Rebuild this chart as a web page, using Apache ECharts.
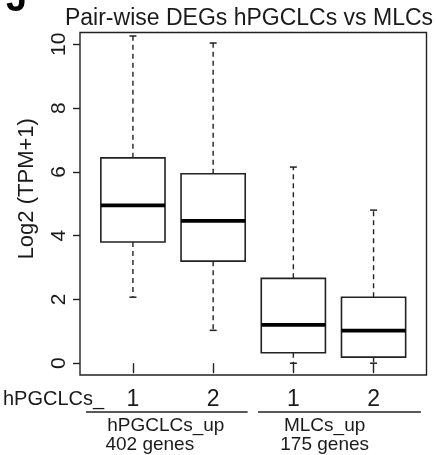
<!DOCTYPE html>
<html>
<head>
<meta charset="utf-8">
<script src="https://cdn.jsdelivr.net/npm/echarts@6/dist/echarts.min.js"></script>
<style>
  html, body { margin: 0; padding: 0; background: #fff; }
  #main { width: 436px; height: 455px; }
</style>
</head>
<body>
<div id="main"></div>
<script>
// box statistics (log2 TPM+1)
const positions = [1, 2, 3, 4];
const tickLabels = ['1', '2', '1', '2'];
const whiskerLow = [2.07, 1.03, 0.0, 0.0];
const q1 = [3.80, 3.20, 0.33, 0.19];
const median = [4.95, 4.46, 1.20, 1.02];
const q3 = [6.44, 5.94, 2.66, 2.07];
const whiskerHigh = [10.26, 10.04, 6.15, 4.80];
const yTicks = [0, 2, 4, 6, 8, 10];

// group annotations under the x axis
const groupNames = ['hPGCLCs_up', 'MLCs_up'];
const groupGenes = ['402 genes', '175 genes'];
const groupSpan = [[0.415, 2.43], [2.56, 4.59]];
const groupNameAt = [1.41, 3.39];
const groupGenesAt = [1.21, 3.39];

const FONT = 'Liberation Sans, Arial, sans-serif';
const INK = '#1a1a1a';

const boxData = positions.map((p, i) => [p, whiskerLow[i], q1[i], median[i], q3[i], whiskerHigh[i]]);

function renderBox(params, api) {
  const x = api.value(0);
  const lo = api.coord([x, api.value(1)]);
  const b1 = api.coord([x, api.value(2)]);
  const md = api.coord([x, api.value(3)]);
  const b3 = api.coord([x, api.value(4)]);
  const hi = api.coord([x, api.value(5)]);
  const w = api.size([0.8, 0])[0];
  const cx = lo[0];
  const cap = 3.5;
  const stroke = { stroke: '#222', lineWidth: 1.5 };
  const dashed = { stroke: '#222', lineWidth: 1.4, lineDash: [5, 4] };
  return {
    type: 'group',
    children: [
      { type: 'line', shape: { x1: cx, y1: b3[1], x2: cx, y2: hi[1] }, style: dashed },
      { type: 'line', shape: { x1: cx, y1: b1[1], x2: cx, y2: lo[1] }, style: dashed },
      { type: 'line', shape: { x1: cx - cap, y1: hi[1], x2: cx + cap, y2: hi[1] }, style: stroke },
      { type: 'line', shape: { x1: cx - cap, y1: lo[1], x2: cx + cap, y2: lo[1] }, style: stroke },
      { type: 'rect', shape: { x: cx - w / 2, y: b3[1], width: w, height: b1[1] - b3[1] },
        style: { fill: '#fff', stroke: '#222', lineWidth: 1.6 } },
      { type: 'line', shape: { x1: cx - w / 2, y1: md[1], x2: cx + w / 2, y2: md[1] },
        style: { stroke: '#000', lineWidth: 3.8 } }
    ]
  };
}

const chartDom = document.getElementById('main');
const myChart = echarts.init(chartDom, null, { renderer: 'canvas' });

const option = {
  animation: false,
  title: {
    text: 'Pair-wise DEGs hPGCLCs vs MLCs',
    left: 244, top: 2, textAlign: 'center',
    textStyle: { fontFamily: FONT, fontSize: 23, fontWeight: 'normal', color: INK }
  },
  grid: {
    left: 80, right: 9.5, top: 32.5, bottom: 80,
    show: true, borderColor: '#222', borderWidth: 1.4, backgroundColor: 'transparent'
  },
  xAxis: {
    type: 'value', min: 0.34, max: 4.66,
    splitLine: { show: false },
    axisLine: { show: false },
    axisTick: { show: true, length: 10, customValues: positions,
      lineStyle: { color: '#222', width: 1.4 } },
    axisLabel: {
      customValues: positions,
      margin: 13,
      fontFamily: FONT, fontSize: 23, color: INK,
      formatter: v => tickLabels[positions.indexOf(Math.round(v))] || ''
    }
  },
  yAxis: {
    type: 'value', min: -0.37, max: 10.37,
    name: 'Log2 (TPM+1)', nameLocation: 'middle', nameGap: 42, nameRotate: 90,
    nameTextStyle: { fontFamily: FONT, fontSize: 22, color: INK, padding: [0, 0, 0, 30] },
    splitLine: { show: false },
    axisLine: { show: false },
    axisTick: { show: true, length: 7, customValues: yTicks,
      lineStyle: { color: '#222', width: 1.4 } },
    axisLabel: {
      customValues: yTicks,
      rotate: 90, margin: 10,
      fontFamily: FONT, fontSize: 21, color: INK
    }
  },
  series: [{
    type: 'custom',
    renderItem: renderBox,
    data: boxData,
    encode: { x: 0, y: [1, 2, 3, 4, 5] },
    clip: false
  }]
};

option && myChart.setOption(option, true);

// annotation under the axis: group brackets and names, placed with the axis scale
const lineY = 412;
const toX = v => myChart.convertToPixel({ gridIndex: 0 }, [v, 0])[0];
const graphics = [
  { type: 'text', left: 3, top: 389,
    style: { text: 'hPGCLCs_', font: '20px ' + FONT, fill: INK } },
  { type: 'text', left: 6, top: -18,
    style: { text: 'J', font: 'bold 38px ' + FONT, fill: '#000' } }
];
groupSpan.forEach((span, i) => {
  const a = toX(span[0]);
  const b = toX(span[1]);
  graphics.push({ type: 'line', shape: { x1: a, y1: lineY, x2: b, y2: lineY },
    style: { stroke: '#222', lineWidth: 1.5 } });
  graphics.push({ type: 'text', x: toX(groupNameAt[i]), y: 426,
    style: { text: groupNames[i], font: '19px ' + FONT, fill: INK, align: 'center', verticalAlign: 'middle' } });
  graphics.push({ type: 'text', x: toX(groupGenesAt[i]), y: 445,
    style: { text: groupGenes[i], font: '19px ' + FONT, fill: INK, align: 'center', verticalAlign: 'middle' } });
});
myChart.setOption({ graphic: graphics });
</script>
</body>
</html>
